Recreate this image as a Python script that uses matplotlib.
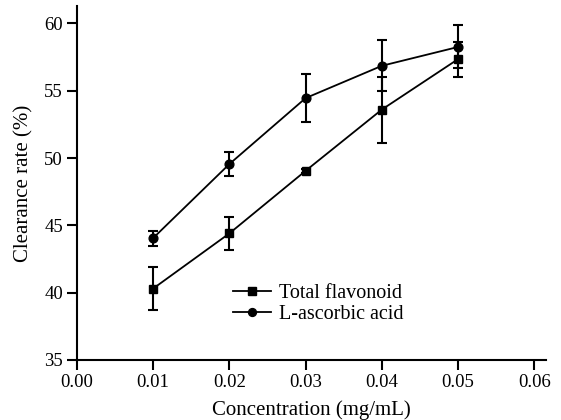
import matplotlib
matplotlib.use("Agg")
import matplotlib.pyplot as plt

conc = [0.01, 0.02, 0.03, 0.04, 0.05]
flavonoid = [40.3, 44.4, 49.05, 53.6, 57.35]
flavonoid_err = [1.6, 1.2, 0.15, 2.45, 1.3]
ascorbic = [44.05, 49.55, 54.45, 56.85, 58.25]
ascorbic_err = [0.55, 0.9, 1.8, 1.9, 1.6]
xticks = [0.00, 0.01, 0.02, 0.03, 0.04, 0.05, 0.06]
yticks = [35, 40, 45, 50, 55, 60]

plt.rcParams['font.family'] = ['Liberation Serif', 'DejaVu Serif']

fig = plt.figure(figsize=(5.61, 4.2), dpi=100)
ax = fig.add_axes([0.137, 0.143, 0.836, 0.843])

ax.errorbar(conc, flavonoid, yerr=flavonoid_err, color='black', marker='s',
            markersize=6.3, linewidth=1.3, elinewidth=1.5, capsize=3.5,
            capthick=1.5, label='Total flavonoid')
ax.errorbar(conc, ascorbic, yerr=ascorbic_err, color='black', marker='o',
            markersize=6.3, linewidth=1.3, elinewidth=1.5, capsize=3.5,
            capthick=1.5, label='L-ascorbic acid')

ax.set_xlim(0, 0.0615)
ax.set_ylim(35, 61.3)
ax.set_xticks(xticks)
ax.set_xticklabels([f"{v:.2f}" for v in xticks])
ax.set_yticks(yticks)
ax.spines['top'].set_visible(False)
ax.spines['right'].set_visible(False)
for s in ['left', 'bottom']:
    ax.spines[s].set_linewidth(1.5)
ax.tick_params(direction='out', length=7, width=1.5, labelsize=13.5, pad=3)
ax.set_xlabel('Concentration (mg/mL)', fontsize=15, labelpad=7)
ax.set_ylabel('Clearance rate (%)', fontsize=15, labelpad=8)

handles, labels = ax.get_legend_handles_labels()
handles = [h[0] for h in handles]
ax.legend(handles, labels, frameon=False, loc='upper left',
          bbox_to_anchor=(0.333, 0.215), fontsize=14.5, handlelength=1.9,
          handletextpad=0.4, labelspacing=0.12, borderaxespad=0, borderpad=0,
          markerscale=0.9)

fig.savefig('out.png', dpi=100)
